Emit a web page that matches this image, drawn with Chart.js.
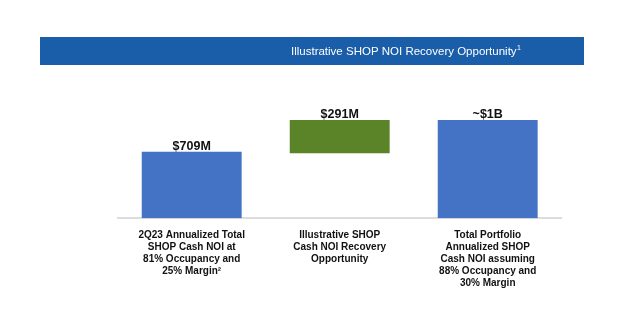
<!DOCTYPE html>
<html>
<head>
<meta charset="utf-8">
<script src="https://cdn.jsdelivr.net/npm/chart.js@4"></script>
<style>
  html, body { margin: 0; padding: 0; background: #fff; }
  #wrap { width: 640px; height: 336px; position: relative; }
</style>
</head>
<body>
<div id="wrap"><canvas id="noiChart" width="640" height="336"></canvas></div>
<script>
// Dane wykresu (w mln USD)
const categories = [
    ['2Q23 Annualized Total', 'SHOP Cash NOI at', '81% Occupancy and', '25% Margin\u00B2'],
    ['Illustrative SHOP', 'Cash NOI Recovery', 'Opportunity'],
    ['Total Portfolio', 'Annualized SHOP', 'Cash NOI assuming', '88% Occupancy and', '30% Margin']
];
const barStarts = [0, 661, 0];
const barEnds = [677, 1000, 1000];
const valueLabels = ['$709M', '$291M', '~$1B'];
const chartTitle = 'Illustrative SHOP NOI Recovery Opportunity';

const FONT = "'Liberation Sans', Arial, sans-serif";

// Niebieski pasek z tytułem
const bannerPlugin = {
    id: 'banner',
    beforeDraw(chart) {
        const ctx = chart.ctx;
        ctx.save();
        ctx.fillStyle = '#1a5ea9';
        ctx.fillRect(40, 37, 544, 28);
        ctx.fillStyle = '#ffffff';
        ctx.font = '11.5px ' + FONT;
        ctx.textBaseline = 'alphabetic';
        ctx.textAlign = 'left';
        ctx.fillText(chartTitle, 291, 55);
        const w = ctx.measureText(chartTitle).width;
        ctx.font = '7px ' + FONT;
        ctx.fillText('1', 291 + w + 0.5, 50);
        ctx.restore();
    }
};

// Etykiety wartości nad słupkami
const valueLabelPlugin = {
    id: 'valueLabels',
    afterDatasetsDraw(chart) {
        const ctx = chart.ctx;
        const meta = chart.getDatasetMeta(0);
        ctx.save();
        ctx.fillStyle = '#111111';
        ctx.font = 'bold 12.5px ' + FONT;
        ctx.textAlign = 'center';
        ctx.textBaseline = 'bottom';
        meta.data.forEach((bar, i) => {
            ctx.fillText(valueLabels[i], bar.x, bar.y + 1);
        });
        ctx.restore();
    }
};

const ctx = document.getElementById('noiChart').getContext('2d');
new Chart(ctx, {
    type: 'bar',
    data: {
        labels: categories,
        datasets: [{
            data: barStarts.map((s, i) => [s, barEnds[i]]),
            backgroundColor: ['#4472c4', '#5b8327', '#4472c4'],
            borderWidth: 0,
            borderSkipped: false,
            barPercentage: 0.9,
            categoryPercentage: 0.75
        }]
    },
    options: {
        responsive: false,
        animation: false,
        devicePixelRatio: 1,
        layout: {
            padding: { left: 117.7, right: 78.3, top: 120, bottom: 0 }
        },
        plugins: {
            legend: { display: false },
            title: { display: false },
            tooltip: { enabled: false }
        },
        scales: {
            x: {
                grid: { display: false, drawTicks: false },
                border: { display: true, color: '#dcdcdc', width: 2 },
                ticks: {
                    color: '#111111',
                    padding: 11,
                    maxRotation: 0,
                    autoSkip: false,
                    font: { family: FONT, size: 10, weight: 'bold', lineHeight: 1.2 }
                },
                afterFit(scale) {
                    scale.height = 336 - 218.3;
                }
            },
            y: {
                display: false,
                min: 0,
                max: 1000
            }
        }
    },
    plugins: [bannerPlugin, valueLabelPlugin]
});
</script>
</body>
</html>
